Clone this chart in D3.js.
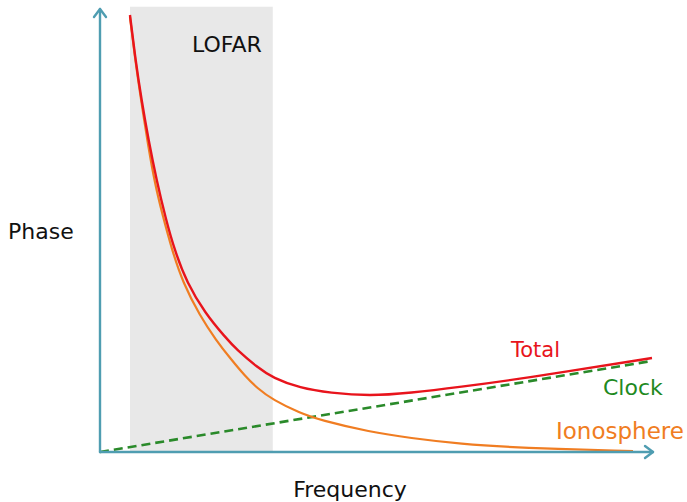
<!DOCTYPE html>
<html>
<head>
<meta charset="utf-8">
<script src="https://cdn.jsdelivr.net/npm/d3@7"></script>
<style>
  html, body { margin: 0; padding: 0; background: #fff; }
  svg { display: block; }
  text { font-family: "DejaVu Sans", sans-serif; }
</style>
</head>
<body>
<svg id="chart" width="687" height="502"></svg>
<script>
// ---- data (frequency 0..100, phase 0..100, arbitrary units) ----
const totalFreq  = [5.43, 6.43, 7.52, 8.79, 10.24, 11.96, 13.50, 15.76, 19.02, 22.64, 24.82, 28.44, 31.34, 36.23, 41.67, 48.91, 56.16, 65.22, 76.09, 100];
const totalPhase = [99.32, 89.09, 80.0, 70.91, 61.82, 52.73, 45.91, 38.41, 31.59, 26.14, 23.18, 19.32, 16.82, 14.55, 13.41, 12.73, 13.41, 14.77, 16.59, 21.36];

const ionoFreq  = [5.43, 6.43, 7.52, 8.70, 9.96, 11.23, 13.04, 15.04, 18.12, 21.01, 23.55, 26.27, 28.44, 31.34, 36.23, 39.86, 48.91, 56.16, 65.22, 76.09, 96.56];
const ionoPhase = [98.86, 88.64, 79.32, 69.77, 60.91, 54.32, 45.91, 38.41, 30.91, 25.45, 21.36, 17.27, 14.55, 11.82, 8.86, 7.27, 4.55, 3.18, 1.82, 0.91, 0.23];

const clockFreq  = [0, 100];
const clockPhase = [0, 20.7];

const lofarBand = [5.43, 31.3];   // frequency range of the shaded band
const bandTop = 101.2;

const labels = ["Phase", "Frequency", "LOFAR", "Total", "Clock", "Ionosphere"];

// ---- layout ----
const svg = d3.select("#chart");
const x = d3.scaleLinear().domain([0, 100]).range([100, 652]);
const y = d3.scaleLinear().domain([0, 100]).range([452, 12]);

const axisColor = "#4f9db1";

// shaded LOFAR band
svg.append("rect")
  .attr("x", x(lofarBand[0]))
  .attr("y", y(bandTop))
  .attr("width", x(lofarBand[1]) - x(lofarBand[0]))
  .attr("height", y(0) - y(bandTop))
  .attr("fill", "#e8e8e8");

svg.append("text")
  .attr("x", 192).attr("y", 52)
  .attr("font-size", 22).attr("fill", "#111")
  .text(labels[2]);

const line = d3.line().x(d => x(d[0])).y(d => y(d[1])).curve(d3.curveBasis);

// clock (dashed)
svg.append("path")
  .datum(d3.zip(clockFreq, clockPhase))
  .attr("d", line)
  .attr("fill", "none")
  .attr("stroke", "#2a8a2a")
  .attr("stroke-width", 2.6)
  .attr("stroke-dasharray", "9,5");

// ionosphere
svg.append("path")
  .datum(d3.zip(ionoFreq, ionoPhase))
  .attr("d", line)
  .attr("fill", "none")
  .attr("stroke", "#f07d22")
  .attr("stroke-width", 2.2);

// total
svg.append("path")
  .datum(d3.zip(totalFreq, totalPhase))
  .attr("d", line)
  .attr("fill", "none")
  .attr("stroke", "#e8141c")
  .attr("stroke-width", 2.4);

// axes with open arrowheads
const ax = svg.append("g").attr("stroke", axisColor).attr("stroke-width", 2.4)
  .attr("fill", "none").attr("stroke-linecap", "round").attr("stroke-linejoin", "round");
ax.append("path").attr("d", `M${x(0)},${y(0)} V9`);
ax.append("path").attr("d", `M${x(0) - 6},17 L${x(0)},9 L${x(0) + 6},17`);
ax.append("path").attr("d", `M${x(0)},${y(0)} H653`);
ax.append("path").attr("d", `M645,${y(0) - 6} L653,${y(0)} L645,${y(0) + 6}`);

// axis titles
svg.append("text")
  .attr("x", 8).attr("y", 239)
  .attr("font-size", 22).attr("fill", "#111")
  .text(labels[0]);
svg.append("text")
  .attr("x", 350).attr("y", 497)
  .attr("text-anchor", "middle")
  .attr("font-size", 22).attr("fill", "#111")
  .text(labels[1]);

// series labels
svg.append("text")
  .attr("x", 511).attr("y", 357)
  .attr("font-size", 21).attr("fill", "#e8141c")
  .text(labels[3]);
svg.append("text")
  .attr("x", 603).attr("y", 395)
  .attr("font-size", 22).attr("fill", "#1f8a1f")
  .text(labels[4]);
svg.append("text")
  .attr("x", 556).attr("y", 439)
  .attr("font-size", 23).attr("fill", "#f07d22")
  .text(labels[5]);
</script>
</body>
</html>
